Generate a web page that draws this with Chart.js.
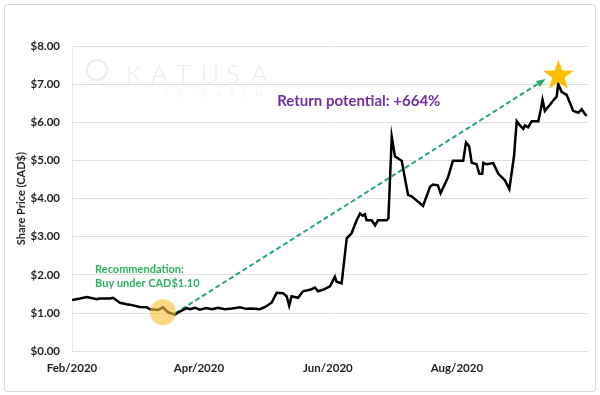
<!DOCTYPE html>
<html>
<head>
<meta charset="utf-8">
<script src="https://cdn.jsdelivr.net/npm/chart.js@4.4.0/dist/chart.umd.min.js"></script>
<style>
  html, body { margin: 0; padding: 0; background: #fff; }
  #wrap { position: relative; width: 600px; height: 395px; overflow: hidden; }
  #frame { position: absolute; left: 4px; top: 4px; right: 4px; bottom: 3px; border: 1px solid #d9d9d9; border-radius: 3px; pointer-events: none; }
  canvas { position: absolute; left: 0; top: 0; }
</style>
</head>
<body>
<div id="wrap"><canvas id="chart" width="600" height="395"></canvas><div id="frame"></div></div>
<script>
// days since 1 Feb 2020
const days = [0, 3.8, 7, 11.7, 13, 18, 19.4, 22.7, 25.9, 27.4, 32, 35.3, 36.9, 40.7, 43, 45.4, 48.7, 51, 54.2,
  55.8, 58.2, 60.5, 63.4, 66.2, 69, 72.3, 75.7, 79.4, 82.3, 85, 88.9, 91.3, 94.4, 96.8, 99.8, 101.5, 102.7, 103.8,
  106.9, 109.2, 112.5, 114.9, 116.3, 118.7, 122, 124.3, 125.1, 127.5, 129.9, 132.2, 134.6, 136.2, 137.4, 138.5,
  139.3, 141.7, 143.3, 144.7, 148.8, 149.6, 151.2, 152.7, 155.9, 158.9, 160.6, 166, 169.3, 170.7, 173, 174.3,
  177.8, 180.1, 185, 186.3, 187.8, 189, 191.3, 192.6, 194, 194.5, 196.1, 199.2, 201.6, 204.7, 206.8, 209, 210.3,
  211.8, 213.4, 214.2, 215.7, 217.4, 220.5, 221.7, 222.5, 223.6, 226, 228.4, 229.2, 229.9, 231.5, 233.9, 237,
  239.4, 241, 242.6, 243.4]
const prices = [1.34, 1.38, 1.42, 1.36, 1.38, 1.38, 1.40, 1.27, 1.23, 1.22, 1.16, 1.15, 1.10, 1.08, 1.15, 1.02, 0.96, 1.04, 1.13,
  1.10, 1.14, 1.09, 1.13, 1.10, 1.14, 1.10, 1.12, 1.15, 1.11, 1.12, 1.10, 1.16, 1.27, 1.53, 1.52, 1.44, 1.19, 1.44,
  1.40, 1.57, 1.61, 1.67, 1.57, 1.61, 1.70, 1.95, 1.82, 1.78, 2.96, 3.09, 3.43, 3.61, 3.55, 3.59,
  3.43, 3.43, 3.30, 3.43, 3.43, 3.48, 5.62, 5.11, 4.99, 4.10, 4.06, 3.81, 4.31, 4.37, 4.35, 4.14,
  4.56, 4.99, 4.99, 5.47, 5.37, 4.94, 4.90, 4.65, 4.65, 4.94, 4.90, 4.93, 4.65, 4.48, 4.25, 5.11, 6.03,
  5.92, 5.83, 5.92, 5.87, 6.03, 6.03, 6.34, 6.59, 6.30, 6.46, 6.63, 6.67, 7.01, 6.80, 6.72, 6.30,
  6.25, 6.34, 6.21, 6.17]
const tickDays = [0, 60, 121, 182]
const tickLabels = ['Feb/2020', 'Apr/2020', 'Jun/2020', 'Aug/2020']
const arrowDays = [48.7, 222.7]
const arrowPrices = [0.99, 7.09]
const buyPoint = [43, 1.02]
const peakPoint = [230, 7.22]
const returnLabel = 'Return potential: +664%'
const recLabel = ['Recommendation:', 'Buy under CAD$1.10']

const FONT = 'Lato, "Open Sans", sans-serif'
const TEXT = '#1f1f1f'

const annotations = {
  id: 'annotations',
  beforeDatasetsDraw(chart) {
    const { ctx, chartArea: a } = chart
    ctx.save()
    ctx.fillStyle = '#ececec'
    ctx.strokeStyle = '#ececec'
    ctx.lineWidth = 2
    ctx.beginPath(); ctx.arc(a.left + 25, a.top + 24, 10, 0, Math.PI * 2); ctx.stroke()
    ctx.font = '300 25px ' + FONT
    ctx.textBaseline = 'middle'
    let x = a.left + 54
    for (const ch of 'KATUSA') { ctx.fillText(ch, x, a.top + 29); x += 25 }
    ctx.font = '300 9px ' + FONT
    x = a.left + 92
    for (const ch of 'RESEARCH') { ctx.fillText(ch, x, a.top + 48); x += 13 }
    ctx.restore()
  },
  afterDatasetsDraw(chart) {
    const { ctx, scales: { x, y } } = chart
    ctx.save()
    // arrow head
    const x0 = x.getPixelForValue(arrowDays[0]), y0 = y.getPixelForValue(arrowPrices[0])
    const x1 = x.getPixelForValue(arrowDays[1]), y1 = y.getPixelForValue(arrowPrices[1])
    const ang = Math.atan2(y1 - y0, x1 - x0)
    ctx.fillStyle = '#26a96c'
    ctx.beginPath()
    ctx.moveTo(x1 + 3 * Math.cos(ang), y1 + 3 * Math.sin(ang))
    ctx.lineTo(x1 - 6 * Math.cos(ang) + 3.5 * Math.sin(ang), y1 - 6 * Math.sin(ang) - 3.5 * Math.cos(ang))
    ctx.lineTo(x1 - 6 * Math.cos(ang) - 3.5 * Math.sin(ang), y1 - 6 * Math.sin(ang) + 3.5 * Math.cos(ang))
    ctx.closePath(); ctx.fill()
    // buy circle
    ctx.fillStyle = 'rgba(247, 190, 50, 0.6)'
    ctx.beginPath()
    ctx.arc(x.getPixelForValue(buyPoint[0]), y.getPixelForValue(buyPoint[1]), 13, 0, Math.PI * 2)
    ctx.fill()
    // star
    const sx = x.getPixelForValue(peakPoint[0]), sy = y.getPixelForValue(peakPoint[1])
    ctx.fillStyle = '#ffbf00'
    ctx.beginPath()
    for (let i = 0; i < 10; i++) {
      const r = i % 2 ? 6.5 : 16
      const t = -Math.PI / 2 + i * Math.PI / 5
      ctx.lineTo(sx + r * Math.cos(t), sy + r * Math.sin(t))
    }
    ctx.closePath(); ctx.fill()
    // labels
    ctx.textBaseline = 'middle'
    ctx.textAlign = 'left'
    ctx.fillStyle = '#7030a0'
    ctx.font = 'bold 15px ' + FONT
    ctx.fillText(returnLabel, x.getPixelForValue(97), y.getPixelForValue(6.56))
    ctx.fillStyle = '#2bb25d'
    ctx.font = 'bold 11px ' + FONT
    ctx.fillText(recLabel[0], x.getPixelForValue(10.9), y.getPixelForValue(2.13))
    ctx.fillText(recLabel[1], x.getPixelForValue(10.9), y.getPixelForValue(1.78))
    ctx.restore()
  }
}

new Chart(document.getElementById('chart'), {
  type: 'line',
  data: {
    datasets: [
      { data: days.map((d, i) => ({ x: d, y: prices[i] })), borderColor: '#000', borderWidth: 2.5, pointRadius: 0, tension: 0 },
      { data: arrowDays.map((d, i) => ({ x: d, y: arrowPrices[i] })), borderColor: '#26a96c', borderWidth: 2, borderDash: [5, 3], pointRadius: 0 }
    ]
  },
  options: {
    responsive: false, animation: false,
    layout: { padding: { top: 46, right: 12, bottom: 10, left: 0 } },
    plugins: { legend: { display: false }, tooltip: { enabled: false } },
    scales: {
      x: {
        type: 'linear', min: 0, max: 244,
        grid: { display: false, drawTicks: false }, border: { display: false },
        afterBuildTicks: s => { s.ticks = tickDays.map(v => ({ value: v })) },
        ticks: { padding: 10, maxRotation: 0, autoSkip: false, color: TEXT, font: { family: FONT, size: 11.5, weight: 'bold' },
          callback: v => tickLabels[tickDays.indexOf(v)] ?? '' }
      },
      y: {
        min: 0, max: 8,
        afterFit: s => { s.width = 72 },
        grid: { color: '#dedede', drawTicks: false }, border: { display: true, color: '#e8e8e8' },
        ticks: { stepSize: 1, padding: 12, color: TEXT, font: { family: FONT, size: 11.5, weight: 'bold' }, callback: v => '$' + v.toFixed(2) },
        title: { display: true, text: 'Share Price (CAD$)', color: TEXT, padding: { top: 15, bottom: 0 }, font: { family: FONT, size: 11, weight: 'bold' } }
      }
    }
  },
  plugins: [annotations]
})
</script>
</body>
</html>
